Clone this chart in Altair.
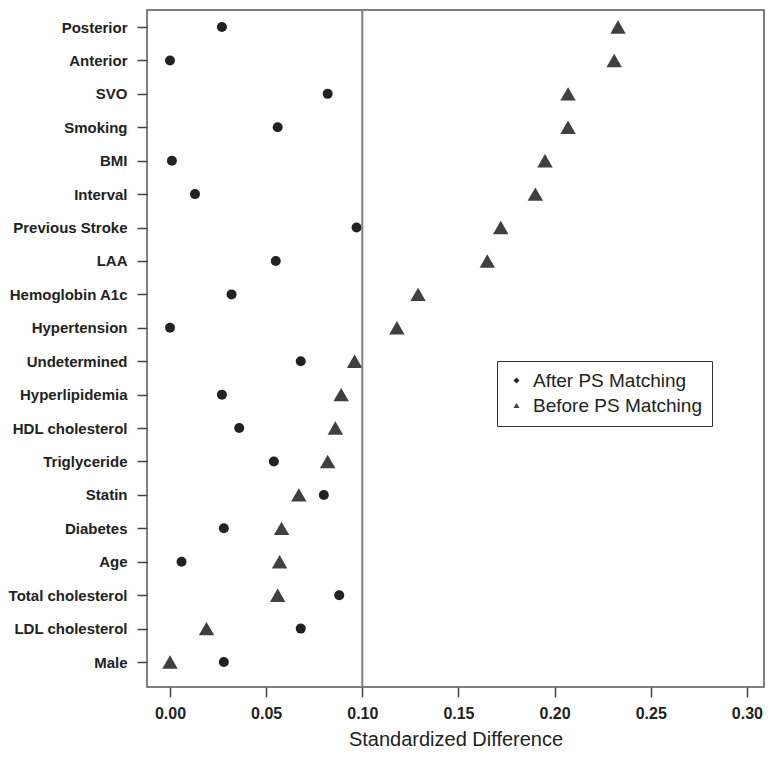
import altair as alt
import pandas as pd

variables = ["Posterior", "Anterior", "SVO", "Smoking", "BMI", "Interval",
             "Previous Stroke", "LAA", "Hemoglobin A1c", "Hypertension",
             "Undetermined", "Hyperlipidemia", "HDL cholesterol", "Triglyceride",
             "Statin", "Diabetes", "Age", "Total cholesterol", "LDL cholesterol", "Male"]
after_ps = [0.027, 0.000, 0.082, 0.056, 0.001, 0.013, 0.097, 0.055, 0.032, 0.000,
            0.068, 0.027, 0.036, 0.054, 0.080, 0.028, 0.006, 0.088, 0.068, 0.028]
before_ps = [0.233, 0.231, 0.207, 0.207, 0.195, 0.190, 0.172, 0.165, 0.129, 0.118,
             0.096, 0.089, 0.086, 0.082, 0.067, 0.058, 0.057, 0.056, 0.019, 0.000]
series_names = ["After PS Matching", "Before PS Matching"]
x_ticks = [0.0, 0.05, 0.10, 0.15, 0.20, 0.25, 0.30]
ref_line = [0.10]

rows = []
for v, a, b in zip(variables, after_ps, before_ps):
    rows.append({"variable": v, "series": series_names[0], "value": a})
    rows.append({"variable": v, "series": series_names[1], "value": b})
df = pd.DataFrame(rows)
df_after = df[df.series == series_names[0]]
df_before = df[df.series == series_names[1]]

FONT = "Liberation Sans"

x_enc = alt.X("value:Q",
              scale=alt.Scale(domain=[-0.01196, 0.3089], nice=False, zero=False),
              axis=alt.Axis(values=x_ticks, format=".2f", grid=False, domain=False,
                            title="Standardized Difference", labelFontSize=16,
                            labelFontWeight="bold", labelPadding=8, tickSize=10,
                            titleFontSize=20, titleFontWeight="normal", titlePadding=8))
y_enc = alt.Y("variable:N", sort=variables,
              scale=alt.Scale(type="point", padding=0.628, align=0.405),
              axis=alt.Axis(title=None, grid=False, domain=False, labelFontSize=15,
                            labelFontWeight="bold", labelPadding=10, tickSize=10))

leg = alt.Legend(title=None, orient="none", legendX=350, legendY=351,
                 strokeColor="#333333", fillColor="white", padding=10,
                 labelFontSize=19, labelFont=FONT, labelColor="#222222",
                 labelLimit=400, symbolSize=36, labelOffset=7, rowPadding=5)

ghost = alt.Chart(df).mark_point(filled=True, size=25, opacity=1).encode(
    x=x_enc, y=y_enc,
    shape=alt.Shape("series:N", scale=alt.Scale(domain=series_names,
                                                 range=["diamond", "triangle-up"]), legend=leg),
    color=alt.Color("series:N", scale=alt.Scale(domain=series_names,
                                                 range=["#222222", "#404040"]), legend=leg),
)

circles = alt.Chart(df_after).mark_point(filled=True, size=100, opacity=1,
                                         shape="circle", color="#222222").encode(
    x=x_enc, y=y_enc)
triangles = alt.Chart(df_before).mark_point(filled=True, size=240, opacity=1,
                                            shape="triangle-up", color="#404040").encode(
    x=x_enc, y=y_enc)
rule = alt.Chart(pd.DataFrame({"value": ref_line})).mark_rule(
    color="#808080", strokeWidth=2).encode(x=x_enc)

chart = alt.layer(ghost, circles, triangles, rule).properties(
    width=617, height=677,
    padding={"left": 0, "top": 1, "right": 1, "bottom": 0},
).configure_view(
    stroke="#555555", strokeWidth=1.5
).configure_axis(
    labelFont=FONT, titleFont=FONT, labelColor="#222222", titleColor="#222222",
    tickColor="#444444", tickWidth=1.5
)

chart.save("out.html", embed_options={"renderer": "svg", "actions": False})
